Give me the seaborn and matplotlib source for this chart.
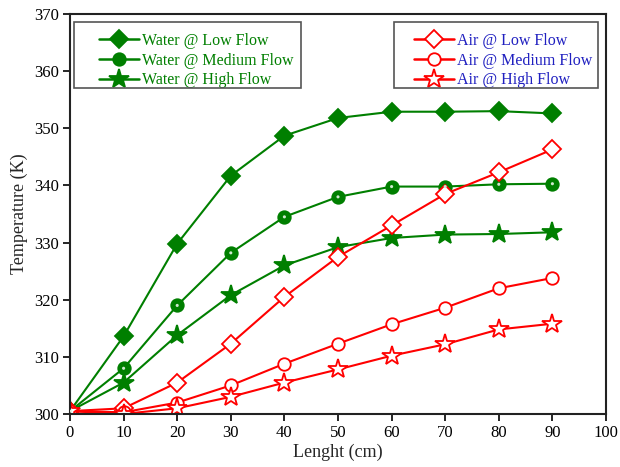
import matplotlib
matplotlib.use("Agg")
import matplotlib.pyplot as plt
import seaborn as sns
import pandas as pd
from matplotlib.lines import Line2D
from matplotlib.patches import Rectangle

length = [0, 10, 20, 30, 40, 50, 60, 70, 80, 90]
water_low = [300.5, 313.6, 329.8, 341.7, 348.7, 351.8, 352.9, 352.9, 353.0, 352.6]
water_med = [300.5, 308.0, 319.0, 328.2, 334.5, 338.0, 339.8, 339.8, 340.2, 340.3]
water_high = [300.5, 305.5, 313.8, 320.8, 326.0, 329.2, 330.8, 331.4, 331.5, 331.8]
air_low = [300.5, 301.0, 305.5, 312.3, 320.5, 327.5, 333.0, 338.5, 342.3, 346.3]
air_med = [300.5, 300.3, 302.0, 305.0, 308.8, 312.3, 315.7, 318.6, 322.0, 323.8]
air_high = [300.5, 300.0, 301.0, 303.0, 305.5, 307.8, 310.2, 312.2, 314.8, 315.8]

water_labels = ["Water @ Low Flow", "Water @ Medium Flow", "Water @ High Flow"]
air_labels = ["Air @ Low Flow", "Air @ Medium Flow", "Air @ High Flow"]

sns.set_style("ticks")
plt.rcParams['font.family'] = ['Liberation Serif', 'DejaVu Serif']

AX_L, AX_R = 70, 606
AX_W = AX_R - AX_L

fig = plt.figure(figsize=(6.2, 4.67), dpi=100)
ax = fig.add_axes([AX_L / 620, 1 - 414 / 467, AX_W / 620, 400 / 467])

GREEN = "#007f00"
RED = "#ff0000"

series = [
    (water_low, GREEN, "D", GREEN, 9),
    (water_med, GREEN, "o", GREEN, 9),
    (water_high, GREEN, "*", GREEN, 15),
    (air_low, RED, "D", "white", 9),
    (air_med, RED, "o", "white", 9),
    (air_high, RED, "*", "white", 15),
]
labels = water_labels + air_labels
handles = []
for (vals, col, mk, fc, ms), lab in zip(series, labels):
    df = pd.DataFrame({"x": length, "y": vals})
    sns.lineplot(data=df, x="x", y="y", ax=ax, color=col, marker=mk,
                 markersize=ms, markerfacecolor=fc, markeredgecolor=col,
                 markeredgewidth=1.3, linewidth=1.5, legend=False)
    if mk == "o" and fc == GREEN:
        sns.scatterplot(data=df, x="x", y="y", ax=ax, s=5, color="#cfe8cf",
                        edgecolor="none", legend=False, zorder=5)
    handles.append(Line2D([0], [0], color=col, marker=mk, markersize=ms,
                          markerfacecolor=fc, markeredgecolor=col,
                          markeredgewidth=1.3, linewidth=1.8))

ax.set_xlim(0, 100)
ax.set_ylim(300, 370)
ax.set_xticks(range(0, 101, 10))
ax.set_yticks(range(300, 371, 10))
ax.set_xlabel("Lenght (cm)", fontsize=13, labelpad=2)
ax.set_ylabel("Temperature (K)", fontsize=13, labelpad=4)
ax.tick_params(axis="both", labelsize=12, direction="out", length=5, width=1.2,
               colors="black", pad=3)
for s in ax.spines.values():
    s.set_linewidth(1.5)
    s.set_color("#222222")

def px_x(p):
    return (p - AX_L) / float(AX_W)

def px_y(p):
    return (414 - p) / 400.0

# legend frames
for x0, x1 in [(74, 301), (394, 598)]:
    ax.add_patch(Rectangle((px_x(x0), px_y(88)), px_x(x1) - px_x(x0),
                           px_y(22) - px_y(88), transform=ax.transAxes,
                           fill=False, edgecolor="#555555", linewidth=1.2,
                           zorder=6, clip_on=False))

common = dict(fontsize=11.5, frameon=False, handlelength=2.5,
              handletextpad=0.2, labelspacing=0.23, borderpad=0,
              borderaxespad=0, loc="upper left")
leg1 = ax.legend(handles[:3], water_labels,
                 bbox_to_anchor=(px_x(99), px_y(33)), **common)
for t in leg1.get_texts():
    t.set_color(GREEN)
ax.add_artist(leg1)

leg2 = ax.legend(handles[3:], air_labels,
                 bbox_to_anchor=(px_x(414), px_y(33)), **common)
for t in leg2.get_texts():
    t.set_color("#2020c0")

fig.savefig("out.png", dpi=100)
